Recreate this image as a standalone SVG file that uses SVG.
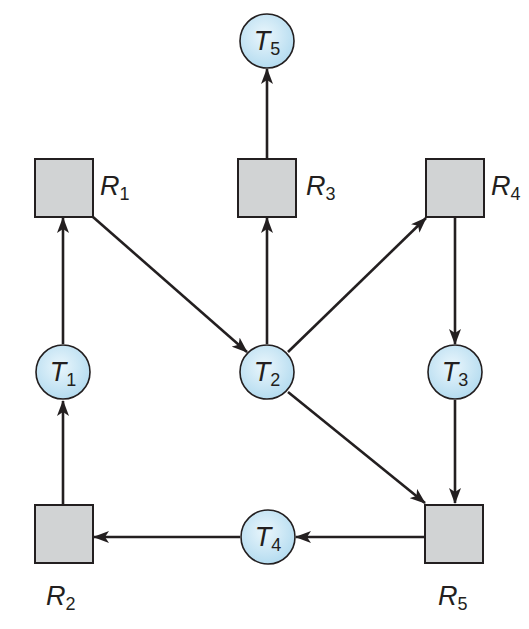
<svg xmlns="http://www.w3.org/2000/svg" width="529" height="629" viewBox="0 0 529 629">
<defs>
<radialGradient id="g" cx="0.45" cy="0.4" r="0.6">
<stop offset="0" stop-color="#eaf6fc"/>
<stop offset="1" stop-color="#b5dcf0"/>
</radialGradient>
<marker id="a" markerUnits="userSpaceOnUse" markerWidth="16" markerHeight="12" refX="15" refY="6" orient="auto">
<path d="M0,0 L16,6 L0,12 L4,6 Z" fill="#231f20"/>
</marker>
<style>
.c{fill:url(#g);stroke:#231f20;stroke-width:1.6}
.r{fill:#d1d3d4;stroke:#231f20;stroke-width:2}
.e{stroke:#231f20;stroke-width:2.6;fill:none;marker-end:url(#a)}
.t{font-family:"Liberation Sans",Arial,sans-serif;font-size:27px;fill:#231f20}
.i{font-style:italic}
.s{font-size:18px}
</style>
</defs>
<g id="connectors">
<line class="e" x1="267" y1="158" x2="267" y2="69"/>
<line class="e" x1="267" y1="344" x2="267" y2="218"/>
<line class="e" x1="93" y1="217" x2="247" y2="352"/>
<line class="e" x1="288" y1="352" x2="426" y2="218"/>
<line class="e" x1="455" y1="217" x2="455" y2="344"/>
<line class="e" x1="455" y1="400" x2="455" y2="503"/>
<line class="e" x1="288" y1="392" x2="425" y2="503"/>
<line class="e" x1="425" y1="537" x2="296" y2="537"/>
<line class="e" x1="240" y1="537" x2="94" y2="537"/>
<line class="e" x1="63" y1="504" x2="63" y2="401"/>
<line class="e" x1="63" y1="344" x2="63" y2="218"/>
</g>
<g id="T5"><circle class="c" cx="267" cy="41" r="27"/><text class="t" x="267" y="50" text-anchor="middle"><tspan class="i">T</tspan><tspan class="s" dy="5">5</tspan></text></g>
<g id="R1"><rect class="r" x="35" y="159" width="58" height="58"/><text class="t" x="100" y="195"><tspan class="i">R</tspan><tspan class="s" dy="5">1</tspan></text></g>
<g id="R3"><rect class="r" x="238" y="159" width="58" height="58"/><text class="t" x="306" y="195"><tspan class="i">R</tspan><tspan class="s" dy="5">3</tspan></text></g>
<g id="R4"><rect class="r" x="426" y="159" width="58" height="58"/><text class="t" x="491" y="195"><tspan class="i">R</tspan><tspan class="s" dy="5">4</tspan></text></g>
<g id="T1"><circle class="c" cx="63" cy="372" r="27"/><text class="t" x="63" y="381" text-anchor="middle"><tspan class="i">T</tspan><tspan class="s" dy="5">1</tspan></text></g>
<g id="T2"><circle class="c" cx="267" cy="372" r="27"/><text class="t" x="267" y="381" text-anchor="middle"><tspan class="i">T</tspan><tspan class="s" dy="5">2</tspan></text></g>
<g id="T3"><circle class="c" cx="455" cy="372" r="27"/><text class="t" x="455" y="381" text-anchor="middle"><tspan class="i">T</tspan><tspan class="s" dy="5">3</tspan></text></g>
<g id="T4"><circle class="c" cx="268" cy="537" r="27"/><text class="t" x="268" y="546" text-anchor="middle"><tspan class="i">T</tspan><tspan class="s" dy="5">4</tspan></text></g>
<g id="R2"><rect class="r" x="35" y="505" width="58" height="58"/><text class="t" x="46" y="605"><tspan class="i">R</tspan><tspan class="s" dy="5">2</tspan></text></g>
<g id="R5"><rect class="r" x="425" y="505" width="58" height="58"/><text class="t" x="438" y="605"><tspan class="i">R</tspan><tspan class="s" dy="5">5</tspan></text></g>
</svg>
